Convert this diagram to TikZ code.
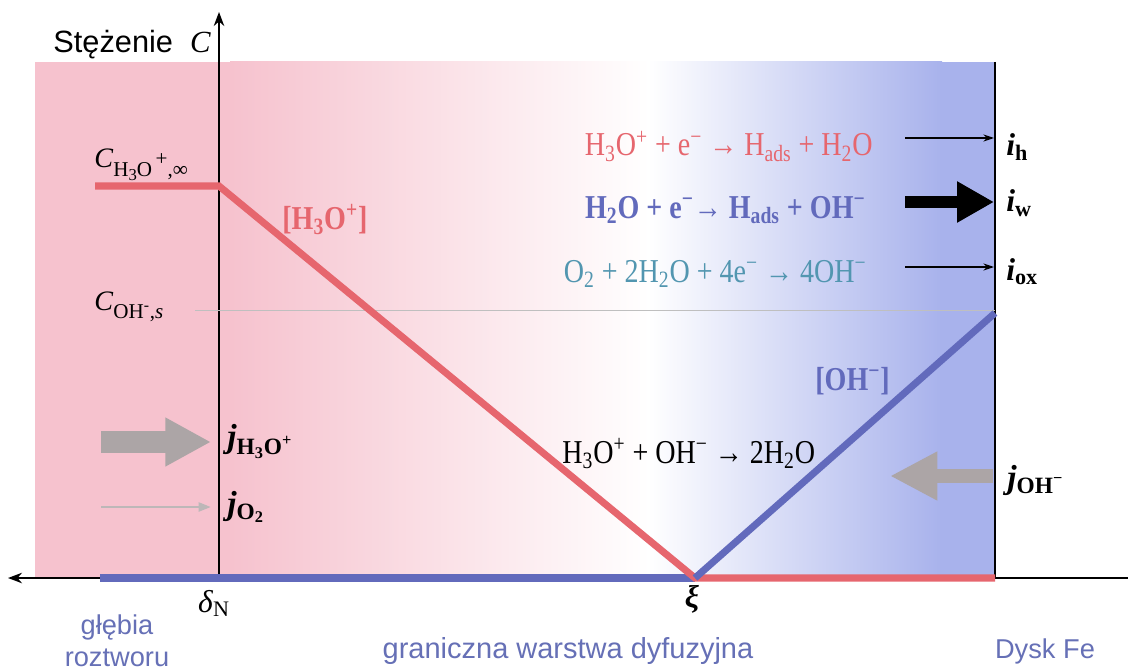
\documentclass[tikz,border=0pt]{standalone}
\usepackage{fontspec}
\setmainfont{Liberation Serif}
\setsansfont{Liberation Sans}
\newfontfamily\wzor[FakeStretch=0.84]{Liberation Serif}
\usetikzlibrary{arrows.meta,positioning}
\definecolor{rozpink}{RGB}{246,194,206}
\definecolor{dyskblue}{RGB}{168,178,236}
\definecolor{h3ored}{RGB}{230,102,110}
\definecolor{ohblue}{RGB}{98,106,188}
\definecolor{o2teal}{RGB}{82,150,176}
\definecolor{labelblue}{RGB}{102,112,182}
\definecolor{fluxgray}{RGB}{172,165,166}
\tikzset{
  profil/.style={line width=4pt},
  h3oprofil/.style={profil, draw=h3ored},
  ohprofil/.style={profil, draw=ohblue},
  reakcja/.style={font=\wzor\fontsize{19}{21}\selectfont, anchor=base east, inner sep=0pt},
  prad/.style={font=\fontsize{18}{20}\selectfont\bfseries, anchor=base west, inner sep=0pt},
  stezenie/.style={font=\fontsize{16}{18}\selectfont, anchor=base west, inner sep=0pt},
  opis/.style={font=\sffamily\fontsize{15.5}{18}\selectfont, text=labelblue, align=center, inner sep=0pt}
}
\newcommand{\sbs}[1]{\textsubscript{#1}}
\newcommand{\sps}[1]{\textsuperscript{#1}}
\newcommand{\dolny}[1]{\raisebox{-0.3em}{\fontsize{12}{12}\selectfont #1}}

\begin{document}
\begin{tikzpicture}[x=0.02cm, y=-0.02cm, >=stealth]
  \useasboundingbox (0,0) rectangle (1128,672);

  % tlo: roztwor (rozowy) -> warstwa -> dysk (niebieski)
  \fill[rozpink] (35,62) rectangle (232,578);
  \shade[left color=rozpink, right color=white] (230,62) rectangle (650,578);
  \shade[left color=white, right color=dyskblue] (648,62) rectangle (942,578);
  \fill[dyskblue] (940,62) rectangle (995,578);

  \coordinate (dN) at (219,578);
  \coordinate (ytop) at (219,12);
  \coordinate (xleft) at (8,578);
  \coordinate (xright) at (1128,578);
  \coordinate (xi) at (695,578);
  \coordinate (fe) at (995,578);
  \coordinate (fetop) at (995,62);

  \draw[line width=0.8pt, -{Stealth[length=8pt,width=6pt]}] (dN) -- (ytop);
  \draw[line width=1pt, -{Stealth[length=8pt,width=6pt]}] (xright) -- (xleft);
  \draw[line width=0.8pt] (fetop) -- (fe);
  \draw[black!25, line width=0.4pt] (195,310) -- (995,310);

  % profile stezen
  \coordinate (cinf) at (95,186);
  \coordinate (cdN) at (219,186);
  \coordinate (ohstart) at (100,578);
  \coordinate (cohs) at (995,313);
  \draw[ohprofil] (ohstart) -- (xi);
  \draw[h3oprofil] (cinf) -- (cdN) -- (xi) -- (fe);
  \draw[ohprofil] (xi) -- (cohs);

  \node[anchor=base east, inner sep=0pt, font=\fontsize{17.5}{19}\selectfont] (stez) at (211,53)
    {\sffamily Stężenie\ \ \rmfamily\itshape C};
  \node[stezenie] (ch3o) at (94,168) {\textit{C}\dolny{H\raisebox{-0.2em}{\fontsize{9.5}{9.5}\selectfont 3}O\,\raisebox{0.5em}{+},∞}};
  \node[stezenie] (cohs-l) at (94,310) {\textit{C}\dolny{OH\raisebox{0.4em}{\fontsize{9}{9}\selectfont -}\kern0.5pt,\textit{s}}};
  \node[anchor=base west, inner sep=0pt, text=h3ored, font=\wzor\fontsize{19}{21}\selectfont\bfseries] (h3o-l) at (282,229)
    {[H\sbs{3}O\sps{+}]};
  \node[anchor=base west, inner sep=0pt, text=ohblue, font=\wzor\fontsize{19}{21}\selectfont\bfseries] (oh-l) at (815,390)
    {[OH\sps{−}]};

  % reakcje na powierzchni dysku
  \node[reakcja, text=h3ored] (r1) at (873,156)
    {H\sbs{3}O\sps{+} + e\sps{−} → H\sbs{ads} + H\sbs{2}O};
  \node[reakcja, text=ohblue, font=\wzor\fontsize{19}{21}\selectfont\bfseries] (r2) at (866,218)
    {H\sbs{2}O + e\sps{−}→ H\sbs{ads} + OH\sps{−}};
  \node[reakcja, text=o2teal] (r3) at (867,282)
    {O\sbs{2} + 2H\sbs{2}O + 4e\sps{−} → 4OH\sps{−}};
  \node[reakcja, anchor=base west] (r4) at (562,463)
    {H\sbs{3}O\sps{+} + OH\sps{−} → 2H\sbs{2}O};

  \node[prad] (ih) at (1006,156) {\textit{i}\sbs{h}};
  \node[prad] (iw) at (1006,212) {\textit{i}\sbs{w}};
  \node[prad] (iox) at (1006,280) {\textit{i}\sbs{ox}};

  \coordinate (ih-a) at (905,138);
  \coordinate (ih-b) at (994,138);
  \coordinate (iw-a) at (905,202);
  \coordinate (iw-b) at (994,202);
  \coordinate (iox-a) at (905,267);
  \coordinate (iox-b) at (994,267);
  \draw[line width=1.2pt, -{Stealth[length=6pt,width=4pt]}] (ih-a) -- (ih-b);
  \draw[line width=7.2pt, -{Triangle[length=21pt,width=22pt]}] (iw-a) -- (iw-b);
  \draw[line width=1.2pt, -{Stealth[length=6pt,width=4pt]}] (iox-a) -- (iox-b);

  % strumienie dyfuzyjne
  \node[prad, font=\fontsize{19}{20}\selectfont\bfseries] (jh3o) at (227,447) {\textit{j}\sbs{H\sbs{3}O\sps{+}}};
  \node[prad, font=\fontsize{19}{20}\selectfont\bfseries] (jo2) at (227,514) {\textit{j}\sbs{O\sbs{2}}};
  \node[prad, font=\fontsize{19}{20}\selectfont\bfseries] (joh) at (1007,488) {\textit{j}\sbs{OH\sps{−}}};

  \coordinate (jh3o-a) at (101,442);
  \coordinate (jh3o-b) at (211,442);
  \coordinate (jo2-a) at (101,507);
  \coordinate (jo2-b) at (211,507);
  \coordinate (joh-a) at (993,476);
  \coordinate (joh-b) at (890,476);
  \draw[fluxgray, line width=12.5pt, -{Triangle[length=26pt,width=26pt]}] (jh3o-a) -- (jh3o-b);
  \draw[fluxgray!80, line width=1.5pt, -{Triangle[length=7pt,width=5pt]}] (jo2-a) -- (jo2-b);
  \draw[fluxgray, line width=8.5pt, -{Triangle[length=27pt,width=26pt]}] (joh-a) -- (joh-b);

  % os x
  \node[anchor=base, inner sep=0pt, font=\fontsize{18}{20}\selectfont] (dN-l) at (214,612) {\textit{δ}\sbs{N}};
  \node[anchor=base, inner sep=0pt, font=\fontsize{18}{20}\selectfont\bfseries] (xi-l) at (692,607) {\textit{ξ}};
  \node[opis] (glebia) at (117,641) {głębia\\roztworu};
  \node[opis, anchor=base, font=\sffamily\fontsize{16.5}{18}\selectfont] (warstwa) at (568,658) {graniczna warstwa dyfuzyjna};
  \node[opis, anchor=base] (dysk) at (1045,658) {Dysk Fe};
\end{tikzpicture}
\end{document}
